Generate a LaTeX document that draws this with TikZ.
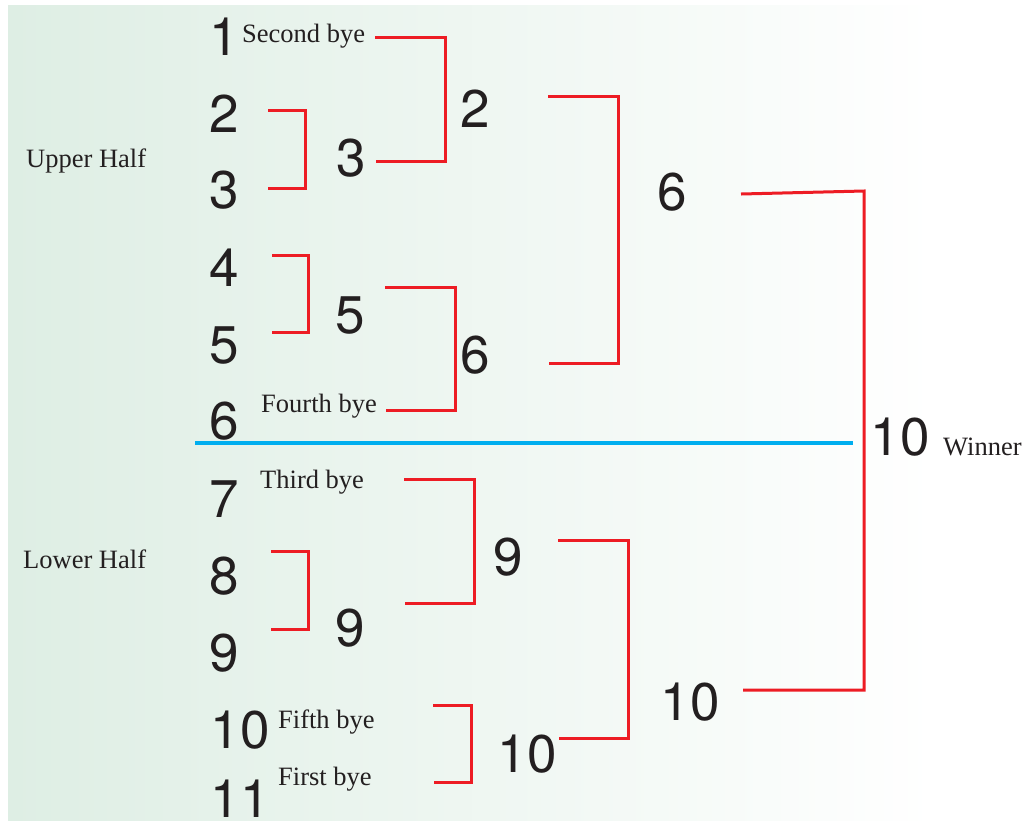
\documentclass[tikz,border=0pt]{standalone}
\usepackage{fontspec}
\setmainfont{Liberation Serif}
\newfontfamily\numfont{TeX Gyre Heros}
\definecolor{bggreen}{RGB}{222,238,228}
\definecolor{bred}{RGB}{237,28,36}
\definecolor{bblue}{RGB}{0,174,239}
\definecolor{ink}{RGB}{35,31,32}
\tikzset{
  num/.style={inner sep=0pt, anchor=base, text=ink, font=\numfont\fontsize{53}{56}\selectfont},
  lbl/.style={inner sep=0pt, anchor=base west, text=ink, font=\fontsize{26.5}{30}\selectfont},
  bracket/.style={draw=bred, line width=3pt, line cap=butt, line join=miter},
  divider/.style={draw=bblue, line width=4pt}
}
\begin{document}
\begin{tikzpicture}[x=1pt,y=-1pt]
\useasboundingbox (0,0) rectangle (1025,823);
\fill[white] (0,0) rectangle (1025,823);
\shade[left color=bggreen, right color=white] (8,5) rectangle (935,820);

% round 1 column
\node[num] (a1) at (224,55) {1};
\node[num] (a2) at (224,132) {2};
\node[num] (a3) at (224,208) {3};
\node[num] (a4) at (224,286) {4};
\node[num] (a5) at (224,363) {5};
\node[num] (a6) at (224,439) {6};
\node[num] (a7) at (224,517) {7};
\node[num] (a8) at (224,594) {8};
\node[num] (a9) at (224,671) {9};
\node[num] (a10) at (240,748) {10};
\node[num] (a11) at (240,817) {11};

% labels
\node[lbl] (l2) at (242,42) {Second bye};
\node[lbl] (l4) at (261,412) {Fourth bye};
\node[lbl] (l3) at (260,488) {Third bye};
\node[lbl] (l5) at (278,728) {Fifth bye};
\node[lbl] (l1) at (278,785) {First bye};
\node[lbl] (up) at (26,167) {Upper Half};
\node[lbl] (lo) at (23,568) {Lower Half};
\node[lbl] (win) at (943,455) {Winner};

% round 2
\node[num] (b3) at (351,176) {3};
\node[num] (b5) at (350,333) {5};
\node[num] (b9) at (350,646) {9};

% round 3
\node[num] (c2) at (475,127) {2};
\node[num] (c6) at (475,373) {6};
\node[num] (c9) at (508,575) {9};
\node[num] (c10) at (527,772) {10};

% round 4
\node[num] (d6) at (672,210) {6};
\node[num] (d10) at (690,720) {10};

% final
\node[num] (f10) at (900,455) {10};

% divider
\draw[divider] (195,443) -- (853,443);

% brackets
\draw[bracket] (268,110) -| (305,188) -- (268,188);
\draw[bracket] (272,255) -| (308,332) -- (272,332);
\draw[bracket] (375,37) -| (445,161) -- (376,161);
\draw[bracket] (385,287) -| (455,410) -- (386,410);
\draw[bracket] (548,96) -| (618,363) -- (549,363);
\draw[bracket] (741,194) -- (864,191) -- (864,690) -- (743,690);
\draw[bracket] (404,479) -| (474,603) -- (405,603);
\draw[bracket] (271,551) -| (308,629) -- (271,629);
\draw[bracket] (433,705) -| (471,782) -- (434,782);
\draw[bracket] (558,540) -| (628,738) -- (559,738);
\end{tikzpicture}
\end{document}
